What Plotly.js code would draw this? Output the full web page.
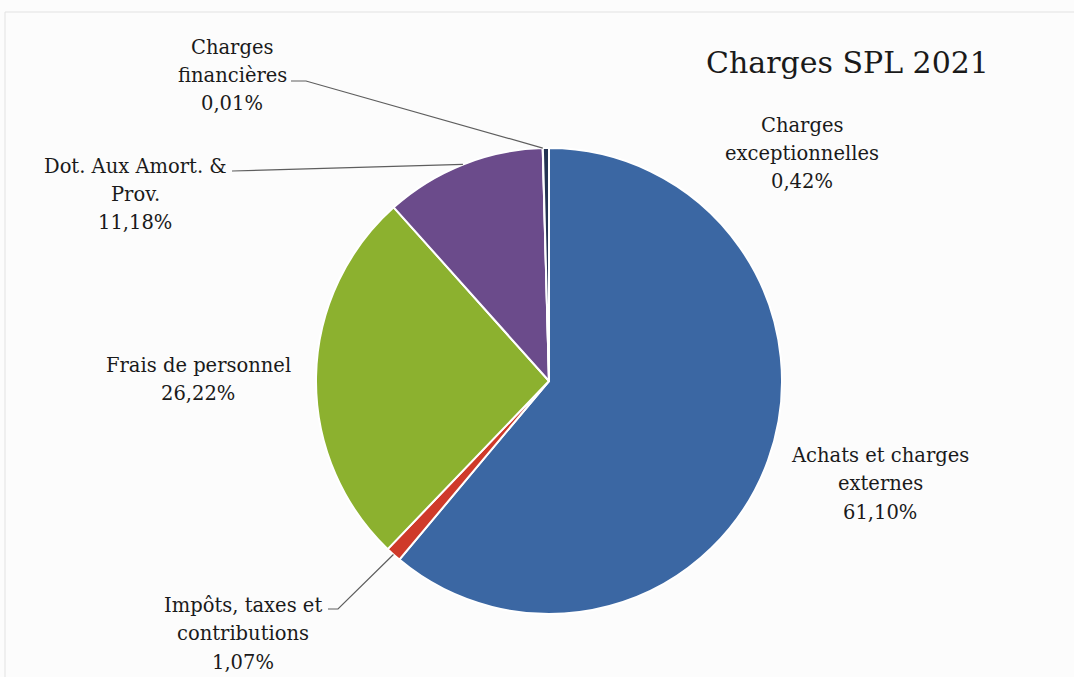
<!DOCTYPE html>
<html>
<head>
<meta charset="utf-8">
<script src="https://cdn.plot.ly/plotly-3.0.1.min.js"></script>
<style>html,body{margin:0;padding:0;background:#fcfcfc;}</style>
</head>
<body>
<div id="chart" style="width:1074px;height:677px;"></div>
<script>
// ---- data ----
const categories = ["Achats et charges externes", "Impôts, taxes et contributions", "Frais de personnel", "Dot. Aux Amort. & Prov.", "Charges financières", "Charges exceptionnelles"];
const values = [61.10, 1.07, 26.22, 11.18, 0.01, 0.42];
const labelLines = [
  ["Achats et charges", "externes", "61,10%"],
  ["Impôts, taxes et", "contributions", "1,07%"],
  ["Frais de personnel", "26,22%"],
  ["Dot. Aux Amort. &", "Prov.", "11,18%"],
  ["Charges", "financières", "0,01%"],
  ["Charges", "exceptionnelles", "0,42%"]
];
const colors = ["#3b67a3", "#cf3a2a", "#8cb12f", "#6b4b8b", "#1a1a1a", "#243352"];
const chartTitle = "Charges SPL 2021";

// ---- layout helpers (pixel -> paper) ----
const W = 1074, H = 677;
const px = x => x / W;
const py = y => 1 - y / H;
const CX = 549, CY = 381, R = 233;
const FONT = "DejaVu Serif, serif";

// label placement: center x, first line center y, line gap, leader line anchor (text side)
const labelPos = [
  {x: 880, y: 455, gap: 28.5, lead: null},
  {x: 243, y: 605, gap: 28.5, lead: {x0: 328, y0: 609, x1: 338, y1: 609}},
  {x: 198, y: 365, gap: 28.5, lead: null},
  {x: 135, y: 166, gap: 28.5, lead: {x0: 232, y0: 171, x1: 232, y1: 171}},
  {x: 232, y: 48, gap: 28, lead: {x0: 291, y0: 81, x1: 306, y1: 81}},
  {x: 802, y: 125, gap: 28.5, lead: null}
];

const total = values.reduce((a, b) => a + b, 0);
let cum = 0;
const annotations = [];
const shapes = [];
values.forEach((v, i) => {
  const mid = (cum + v / 2) / total;
  cum += v;
  const th = mid * 2 * Math.PI;
  const ex = CX + R * Math.sin(th), ey = CY - R * Math.cos(th);
  const p = labelPos[i];
  labelLines[i].forEach((t, k) => {
    annotations.push({
      text: t, xref: "paper", yref: "paper",
      x: px(p.x), y: py(p.y + k * p.gap),
      xanchor: "center", yanchor: "middle", showarrow: false,
      font: {family: FONT, size: 19.5, color: "#1a1a1a"}
    });
  });
  if (p.lead) {
    shapes.push({
      type: "path", xref: "paper", yref: "paper",
      path: `M ${px(p.lead.x0)} ${py(p.lead.y0)} L ${px(p.lead.x1)} ${py(p.lead.y1)} L ${px(ex)} ${py(ey)}`,
      line: {color: "#5e5e5e", width: 1.2}
    });
  }
});

annotations.push({
  text: chartTitle, xref: "paper", yref: "paper",
  x: px(847), y: py(63), xanchor: "center", yanchor: "middle", showarrow: false,
  font: {family: FONT, size: 30, color: "#1a1a1a"}
});

// faint frame from the scanned page
shapes.push({type: "line", xref: "paper", yref: "paper", x0: px(5), x1: 1, y0: py(12), y1: py(12), line: {color: "#e2e2e2", width: 1}});
shapes.push({type: "line", xref: "paper", yref: "paper", x0: px(5), x1: px(5), y0: py(12), y1: 0, line: {color: "#e2e2e2", width: 1}});

const trace = {
  type: "pie",
  labels: categories,
  values: values,
  sort: false,
  direction: "clockwise",
  rotation: 0,
  textinfo: "none",
  hoverinfo: "none",
  marker: {colors: colors, line: {color: "#ffffff", width: 2}},
  domain: {x: [px(CX - R), px(CX + R)], y: [py(CY + R), py(CY - R)]},
  showlegend: false
};

const layout = {
  width: W, height: H,
  margin: {l: 0, r: 0, t: 0, b: 0},
  paper_bgcolor: "#fcfcfc",
  plot_bgcolor: "#fcfcfc",
  showlegend: false,
  annotations: annotations,
  shapes: shapes
};

Plotly.newPlot("chart", [trace], layout, {displayModeBar: false, staticPlot: true});
</script>
</body>
</html>
